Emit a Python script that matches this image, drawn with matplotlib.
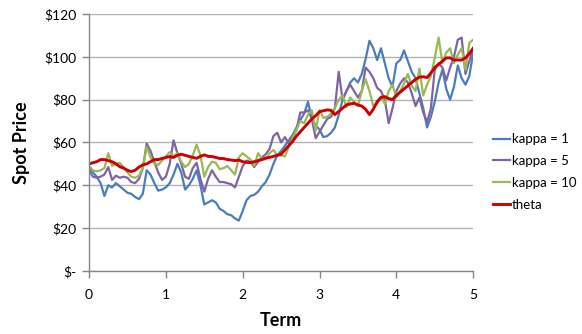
import numpy as np
import matplotlib.pyplot as plt
from matplotlib.ticker import FuncFormatter

# simulated spot price paths, sampled every 0.05 of term
term = [round(0.05 * i, 2) for i in range(101)]

kappa_1 = [48, 46, 44, 41, 35, 40, 39, 41, 39.5, 38,
           36.5, 36, 34.5, 33.5, 36, 47, 45, 41, 37.5, 38,
           39, 41, 45, 50, 46, 38, 40, 43, 47, 40,
           31, 32, 33, 32, 29, 28, 26.5, 26, 24.5, 23.5,
           28, 33, 35, 35.5, 37, 39.5, 41.5, 45, 50, 54,
           56, 58.5, 61, 63.5, 67, 70.5, 73.5, 79, 71, 68,
           66, 62.5, 63, 64.5, 67, 72.8, 80, 84, 88, 90,
           88, 92, 99, 107.5, 104, 98.5, 104, 97, 90, 86,
           97, 98.5, 103, 98, 93, 90, 83, 76, 67, 72,
           79, 88, 94, 85, 80, 86, 96, 90, 87, 91, 102]

kappa_5 = [47, 44, 43.5, 44, 45, 48.5, 42.5, 44.5, 43.5, 44,
           43.5, 41.5, 41, 43, 48, 59.5, 56, 51, 46, 42.5,
           44, 50, 61, 55, 50, 44, 43, 48, 50.5, 43,
           37, 43, 47, 44, 41.5, 41.5, 41, 40.5, 39, 44,
           49, 51.5, 51, 48.5, 51, 53, 54.5, 57, 63, 64.5,
           60, 62.5, 59.5, 62, 66, 74, 74, 75, 71, 62,
           65, 68, 71, 72, 76, 93, 80, 84, 87, 84,
           81, 84, 95, 93, 90, 85.5, 84, 80, 69, 76,
           84, 87.5, 90, 88, 83, 77, 81, 74, 69.5, 76,
           94, 97, 95, 89, 95, 100, 108, 109, 92, 98, 104]

kappa_10 = [49, 47, 46.5, 47, 48, 55, 49, 50, 50.5, 48.5,
            46, 44, 43.5, 44.5, 48, 58, 53, 50, 49.5, 51.5,
            53.5, 55.5, 53.5, 55, 51, 48.5, 50, 54, 59, 54,
            44, 48.5, 51, 50.5, 47.5, 48, 49, 47, 45, 53,
            55, 53.5, 52, 49, 55, 52.5, 52, 55, 56.5, 54,
            54, 53.5, 58, 62, 66, 70, 69, 73, 75, 65.5,
            75, 71.5, 72, 73.5, 76, 80, 82, 76.5, 81, 79,
            77, 84, 89.5, 84, 77, 78, 81.5, 78, 84, 87,
            81, 84, 87.5, 92, 86.5, 84, 94.5, 82, 87, 91,
            99.5, 109, 97, 102, 104, 97, 101, 104, 94, 106.5, 108]

theta = [50, 50.5, 51, 52, 52, 51.5, 51, 50, 48.7, 48,
         47, 46.4, 47, 48.5, 49.5, 50, 51, 52, 52, 52.5,
         53, 53.4, 53, 54, 54.5, 54, 53.5, 53, 52.6, 53.5,
         54.2, 53.5, 53.4, 53, 52.5, 52.5, 52, 51.8, 51.5, 51.8,
         51, 50.7, 50.6, 51, 51.5, 52, 52.7, 53, 53.5, 54,
         54.5, 56.5, 58.5, 60.5, 63, 65, 67, 69, 71, 72.5,
         74.4, 74.8, 75.2, 75, 73, 74.5, 76, 77.5, 78, 78.3,
         77.5, 77, 75.5, 73, 75.5, 79, 81, 81.4, 80.5, 80,
         82, 83.5, 85, 86.5, 88, 89.5, 90.5, 90.7, 90.3, 92.5,
         95, 96.5, 98, 99.5, 99.5, 98.5, 98.5, 98.5, 99.5, 101.5, 104]

series = [("kappa = 1", kappa_1, "#4a7ebb", 1.6),
          ("kappa = 5", kappa_5, "#7f63a6", 1.6),
          ("kappa = 10", kappa_10, "#98b954", 1.6),
          ("theta", theta, "#cc0000", 2.1)]

plt.rcParams['font.family'] = ['Lato', 'DejaVu Sans']

fig = plt.figure(figsize=(5.82, 3.34), dpi=100)
ax = fig.add_axes([0.153, 0.189, 0.660, 0.769])

for name, vals, col, lw in series:
    ax.plot(term, vals, color=col, lw=lw, label=name, solid_joinstyle='round')

ax.set_xlim(0, 5)
ax.set_ylim(0, 120)
ax.set_xticks(range(6))
ax.set_yticks(range(0, 121, 20))
ax.yaxis.set_major_formatter(FuncFormatter(lambda v, p: "$-" if v == 0 else "${:.0f}".format(v)))

ax.grid(axis='y', color='#b3b3b3', lw=1)
ax.set_axisbelow(True)
for s in ['top', 'right']:
    ax.spines[s].set_visible(False)
for s in ['left', 'bottom']:
    ax.spines[s].set_color('#868686')
    ax.spines[s].set_linewidth(1)
ax.tick_params(axis='both', colors='#868686', length=5, width=1, labelsize=10, labelcolor='black')
ax.tick_params(axis='x', pad=8)
ax.tick_params(axis='y', pad=4)

ax.set_xlabel("Term", fontsize=13, fontweight='bold', labelpad=8)
ax.set_ylabel("Spot Price", fontsize=13, fontweight='bold', labelpad=10)

ax.legend(loc='center left', bbox_to_anchor=(1.02, 0.385), frameon=False,
          fontsize=9.5, handlelength=1.3, handletextpad=0.15, labelspacing=0.75)

fig.savefig("out.png", dpi=100)
